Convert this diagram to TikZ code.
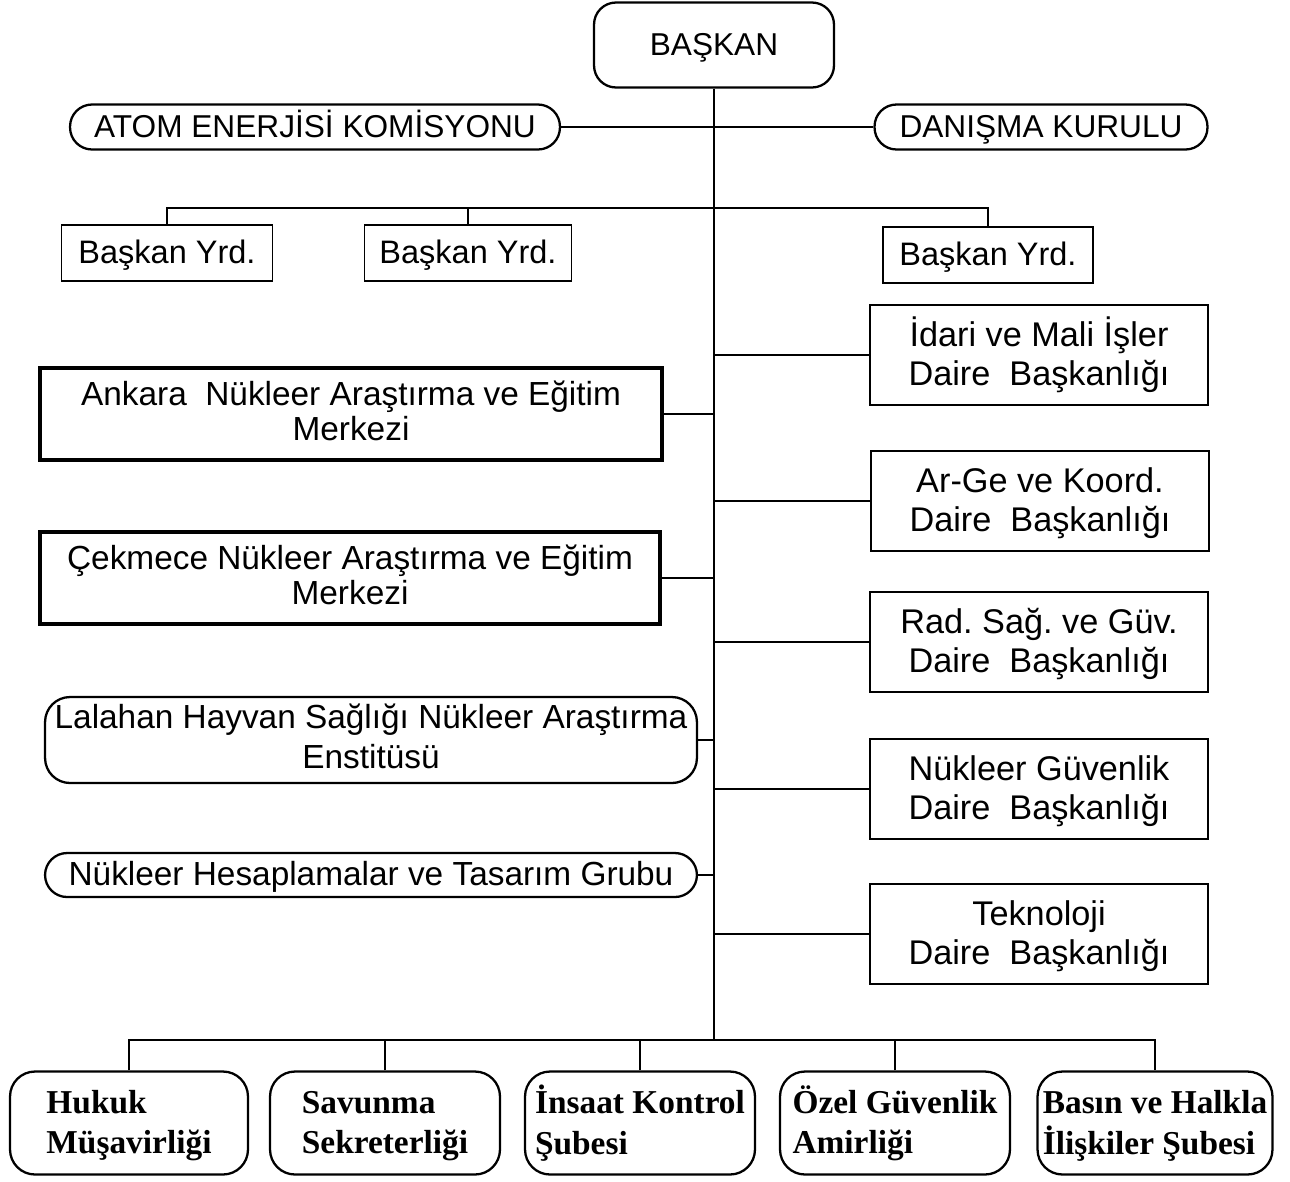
\documentclass[tikz,border=0pt]{standalone}
\usepackage{fontspec}
\setmainfont{Liberation Sans}
\newfontfamily\serfont{Liberation Serif}
\frenchspacing
\newcommand\ust{\vphantom{İ}}
\begin{document}
\begin{tikzpicture}[x=0.02cm,y=-0.02cm,
	kutu/.style={draw,line width=1pt,inner sep=0pt,align=center,font=\fontsize{19}{20}\selectfont,
		execute at begin node=\vphantom{İ},execute at end node=\vphantom{ş}},
	yuvarlak/.style={kutu,line width=1.3pt,rounded corners=0.44cm},
	kalin/.style={kutu,line width=2pt,minimum height=1.84cm},
	yrd/.style={kutu,minimum height=1.12cm,font=\fontsize{18.5}{20}\selectfont},
	daire/.style={kutu,minimum width=6.76cm,minimum height=2cm,font=\fontsize{19.5}{22}\selectfont},
	alt/.style={kutu,rounded corners=0.5cm,line width=1.3pt,minimum width=4.6cm,minimum height=2.06cm,align=left,font=\serfont\bfseries\fontsize{19}{23}\selectfont},
	hat/.style={line width=1pt}]
	\useasboundingbox (0,0) rectangle (1290,1181);
	\node[yuvarlak,minimum width=4.8cm,minimum height=1.7cm,font=\fontsize{18}{20}\selectfont] (baskan) at (714,45) {BAŞKAN};
	\node[yuvarlak,minimum width=9.8cm,minimum height=0.9cm,font=\fontsize{18}{20}\selectfont] (atom) at (315,127) {ATOM ENERJİSİ KOMİSYONU};
	\node[yuvarlak,minimum width=6.66cm,minimum height=0.9cm,font=\fontsize{18}{20}\selectfont] (danisma) at (1041,127) {DANIŞMA KURULU};
	\node[yrd,minimum width=4.22cm] (yrd1) at (167,253) {Başkan Yrd.};
	\node[yrd,minimum width=4.14cm] (yrd2) at (468,253) {Başkan Yrd.};
	\node[yrd,minimum width=4.2cm] (yrd3) at (988,255) {Başkan Yrd.};
	\node[daire] (idari) at (1039,355) {\ust İdari ve Mali İşler\\Daire~ Başkanlığı};
	\node[daire] (arge) at (1040,501) {\ust Ar-Ge ve Koord.\\Daire~ Başkanlığı};
	\node[daire] (rad) at (1039,642) {\ust Rad. Sağ. ve Güv.\\Daire~ Başkanlığı};
	\node[daire] (nukguv) at (1039,789) {\ust Nükleer Güvenlik\\Daire~ Başkanlığı};
	\node[daire] (tekno) at (1039,934) {\ust Teknoloji\\Daire~ Başkanlığı};
	\node[kalin,minimum width=12.44cm] (ankara) at (351,414) {Ankara~ Nükleer Araştırma ve Eğitim\\Merkezi};
	\node[kalin,minimum width=12.4cm] (cekmece) at (350,578) {Çekmece Nükleer Araştırma ve Eğitim\\Merkezi};
	\node[yuvarlak,rounded corners=0.5cm,minimum width=13.04cm,minimum height=1.72cm,font=\fontsize{19}{23}\selectfont] (lalahan) at (371,740) {Lalahan Hayvan Sağlığı Nükleer Araştırma\\Enstitüsü};
	\node[yuvarlak,minimum width=13.04cm,minimum height=0.88cm] (hesap) at (371,875) {Nükleer Hesaplamalar ve Tasarım Grubu};
	\node[alt,minimum width=4.76cm] (hukuk) at (129,1123) {\ust Hukuk\\Müşavirliği};
	\node[alt] (savunma) at (385,1123) {\ust Savunma\\Sekreterliği};
	\node[alt] (insaat) at (640,1123) {\ust İnsaat Kontrol\\Şubesi};
	\node[alt] (ozel) at (895,1123) {\ust Özel Güvenlik\\Amirliği};
	\node[alt,minimum width=4.7cm] (basin) at (1155,1123) {\ust Basın ve Halkla\\İlişkiler Şubesi};
	\coordinate (ustbar) at (714,208);
	\coordinate (altbar) at (714,1040);
	\draw[hat] (baskan.south) -- (baskan.south |- altbar);
	\draw[hat] (atom.east) -- (danisma.west);
	\draw[hat] (yrd1.north) |- (yrd3.north |- ustbar) -- (yrd3.north);
	\draw[hat] (yrd2.north) -- (yrd2.north |- ustbar);
	\foreach \n in {idari,arge,rad,nukguv,tekno,ankara,cekmece,lalahan,hesap}
		\draw[hat] (\n) -- (\n -| baskan.south);
	\draw[hat] (hukuk.north) |- (basin.north |- altbar) -- (basin.north);
	\foreach \n in {savunma,insaat,ozel}
		\draw[hat] (\n.north) -- (\n.north |- altbar);
\end{tikzpicture}
\end{document}
